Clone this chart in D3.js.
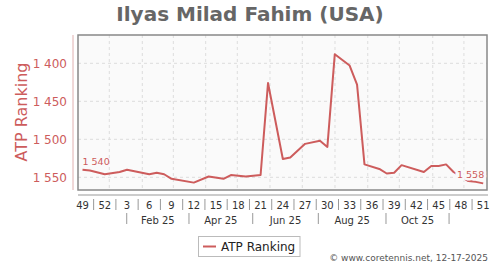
<!DOCTYPE html>
<html>
<head>
<meta charset="utf-8">
<script src="https://cdn.jsdelivr.net/npm/d3@7"></script>
<style>
  body { margin: 0; background: #fff; }
  svg { display: block; font-family: 'DejaVu Sans', sans-serif; }
</style>
</head>
<body>
<svg id="chart" width="500" height="270"></svg>
<script>
// week index 0 = week 49 of 2024, index 54 = week 51 of 2025
const weeks = [0, 1, 3, 5, 6, 9, 10, 11, 12, 15, 17, 19, 20, 22, 24, 25, 27, 28, 30, 32, 33, 34, 36, 37, 38, 40, 41, 42, 43, 46, 47, 48, 49, 50, 52, 53, 54]
const ranks = [1540, 1541, 1546, 1543, 1540, 1546, 1544, 1546, 1552, 1557, 1549, 1552, 1547, 1549, 1547, 1426, 1526, 1524, 1506, 1502, 1510, 1388, 1403, 1428, 1533, 1539, 1545, 1544, 1534, 1543, 1535, 1535, 1533, 1543, 1555, 1556, 1558]

const weekTickPos = d3.range(0, 55, 3)
const weekTickLabels = ['49', '52', '3', '6', '9', '12', '15', '18', '21', '24', '27', '30', '33', '36', '39', '42', '45', '48', '51']
const monthBounds = [5.96, 14.35, 22.94, 31.78, 40.9, 49.4]
const monthLabels = ['Feb 25', 'Apr 25', 'Jun 25', 'Aug 25', 'Oct 25']
const gridWeeks = [3.61, 8.06, 12.24, 16.6, 20.86, 25.27, 29.62, 34.03, 38.44, 42.7, 47.2, 51.4]
const yTicks = [1400, 1450, 1500, 1550]

const red = '#cd5c5c'
const svg = d3.select('#chart')
const plot = { left: 78, top: 35, right: 487, bottom: 190 }

const x = d3.scaleLinear().domain([0, 54]).range([82.5, 483.2])
const y = d3.scaleLinear().domain([1400, 1550]).range([63.3, 177.3])
const fmt = v => d3.format(',')(v).replace(',', ' ')

// titre
svg.append('text')
  .attr('x', 250).attr('y', 21)
  .attr('text-anchor', 'middle')
  .attr('font-size', 20).attr('font-weight', 'bold')
  .attr('fill', '#666')
  .text('Ilyas Milad Fahim (USA)')

// fond du graphique
svg.append('rect')
  .attr('x', plot.left).attr('y', plot.top)
  .attr('width', plot.right - plot.left).attr('height', plot.bottom - plot.top)
  .attr('fill', '#fafafa')

// grille
const grid = svg.append('g').attr('stroke', '#ddd').attr('stroke-dasharray', '3,3')
grid.selectAll('line.h').data(yTicks).join('line')
  .attr('x1', plot.left).attr('x2', plot.right)
  .attr('y1', d => y(d)).attr('y2', d => y(d))
grid.selectAll('line.v').data(gridWeeks).join('line')
  .attr('x1', d => x(d)).attr('x2', d => x(d))
  .attr('y1', plot.top).attr('y2', plot.bottom)

svg.append('rect')
  .attr('x', plot.left).attr('y', plot.top)
  .attr('width', plot.right - plot.left).attr('height', plot.bottom - plot.top)
  .attr('fill', 'none').attr('stroke', '#888').attr('stroke-width', 1.5)

// axe Y
svg.append('line')
  .attr('x1', 73).attr('x2', 73).attr('y1', plot.top).attr('y2', plot.bottom)
  .attr('stroke', '#e0b0b0').attr('stroke-width', 1)
svg.append('g').selectAll('text').data(yTicks).join('text')
  .attr('x', 67).attr('y', d => y(d)).attr('dy', '0.35em')
  .attr('text-anchor', 'end').attr('font-size', 12).attr('fill', red)
  .text(fmt)
svg.append('text')
  .attr('transform', 'translate(27,112) rotate(-90)')
  .attr('text-anchor', 'middle').attr('font-size', 16).attr('fill', red)
  .text('ATP Ranking')

// axe X
svg.append('line')
  .attr('x1', plot.left).attr('x2', plot.right + 1).attr('y1', 195).attr('y2', 195)
  .attr('stroke', '#999').attr('stroke-width', 1.2)
const xAx = svg.append('g')
xAx.selectAll('text.wk').data(weekTickPos).join('text')
  .attr('x', d => x(d)).attr('y', 208.5)
  .attr('text-anchor', 'middle').attr('font-size', 10).attr('fill', '#333')
  .text((d, i) => weekTickLabels[i])
xAx.selectAll('line.wk').data(weekTickPos.slice(0, -1)).join('line')
  .attr('x1', d => x(d + 1.5)).attr('x2', d => x(d + 1.5))
  .attr('y1', 199).attr('y2', 210)
  .attr('stroke', '#999')
xAx.selectAll('line.mo').data(monthBounds).join('line')
  .attr('x1', d => x(d)).attr('x2', d => x(d))
  .attr('y1', 213).attr('y2', 224)
  .attr('stroke', '#999')
xAx.selectAll('text.mo').data(monthLabels).join('text')
  .attr('x', (d, i) => x((monthBounds[i] + monthBounds[i + 1]) / 2)).attr('y', 223.5)
  .attr('text-anchor', 'middle').attr('font-size', 10).attr('fill', '#333')
  .text(d => d)

// courbe
const pts = weeks.map((w, i) => [w, ranks[i]])
const line = d3.line().x(d => x(d[0])).y(d => y(d[1]))
svg.append('path')
  .datum(pts)
  .attr('d', line)
  .attr('fill', 'none').attr('stroke', red).attr('stroke-width', 2)
  .attr('stroke-linejoin', 'round')

// étiquettes première / dernière valeur
const first = pts[0], last = pts[pts.length - 1]
svg.append('text')
  .attr('x', x(first[0])).attr('y', y(first[1]) - 4.5)
  .attr('font-size', 9.5).attr('fill', red)
  .text(fmt(first[1]))
svg.append('text')
  .attr('x', x(last[0]) + 1).attr('y', y(last[1]) - 5)
  .attr('text-anchor', 'end')
  .attr('font-size', 9.5).attr('fill', red)
  .attr('stroke', '#fafafa').attr('stroke-width', 5).attr('paint-order', 'stroke')
  .text(fmt(last[1]))

// légende
const leg = svg.append('g')
leg.append('rect')
  .attr('x', 198.5).attr('y', 236.5).attr('width', 101.5).attr('height', 20)
  .attr('fill', '#fff').attr('stroke', '#bbb')
leg.append('line')
  .attr('x1', 203).attr('x2', 216).attr('y1', 246.5).attr('y2', 246.5)
  .attr('stroke', red).attr('stroke-width', 2)
leg.append('text')
  .attr('x', 221).attr('y', 251)
  .attr('font-size', 12).attr('fill', '#222')
  .text('ATP Ranking')

svg.append('text')
  .attr('x', 488).attr('y', 261)
  .attr('text-anchor', 'end').attr('font-size', 9).attr('fill', '#555')
  .text('© www.coretennis.net, 12-17-2025')
</script>
</body>
</html>
